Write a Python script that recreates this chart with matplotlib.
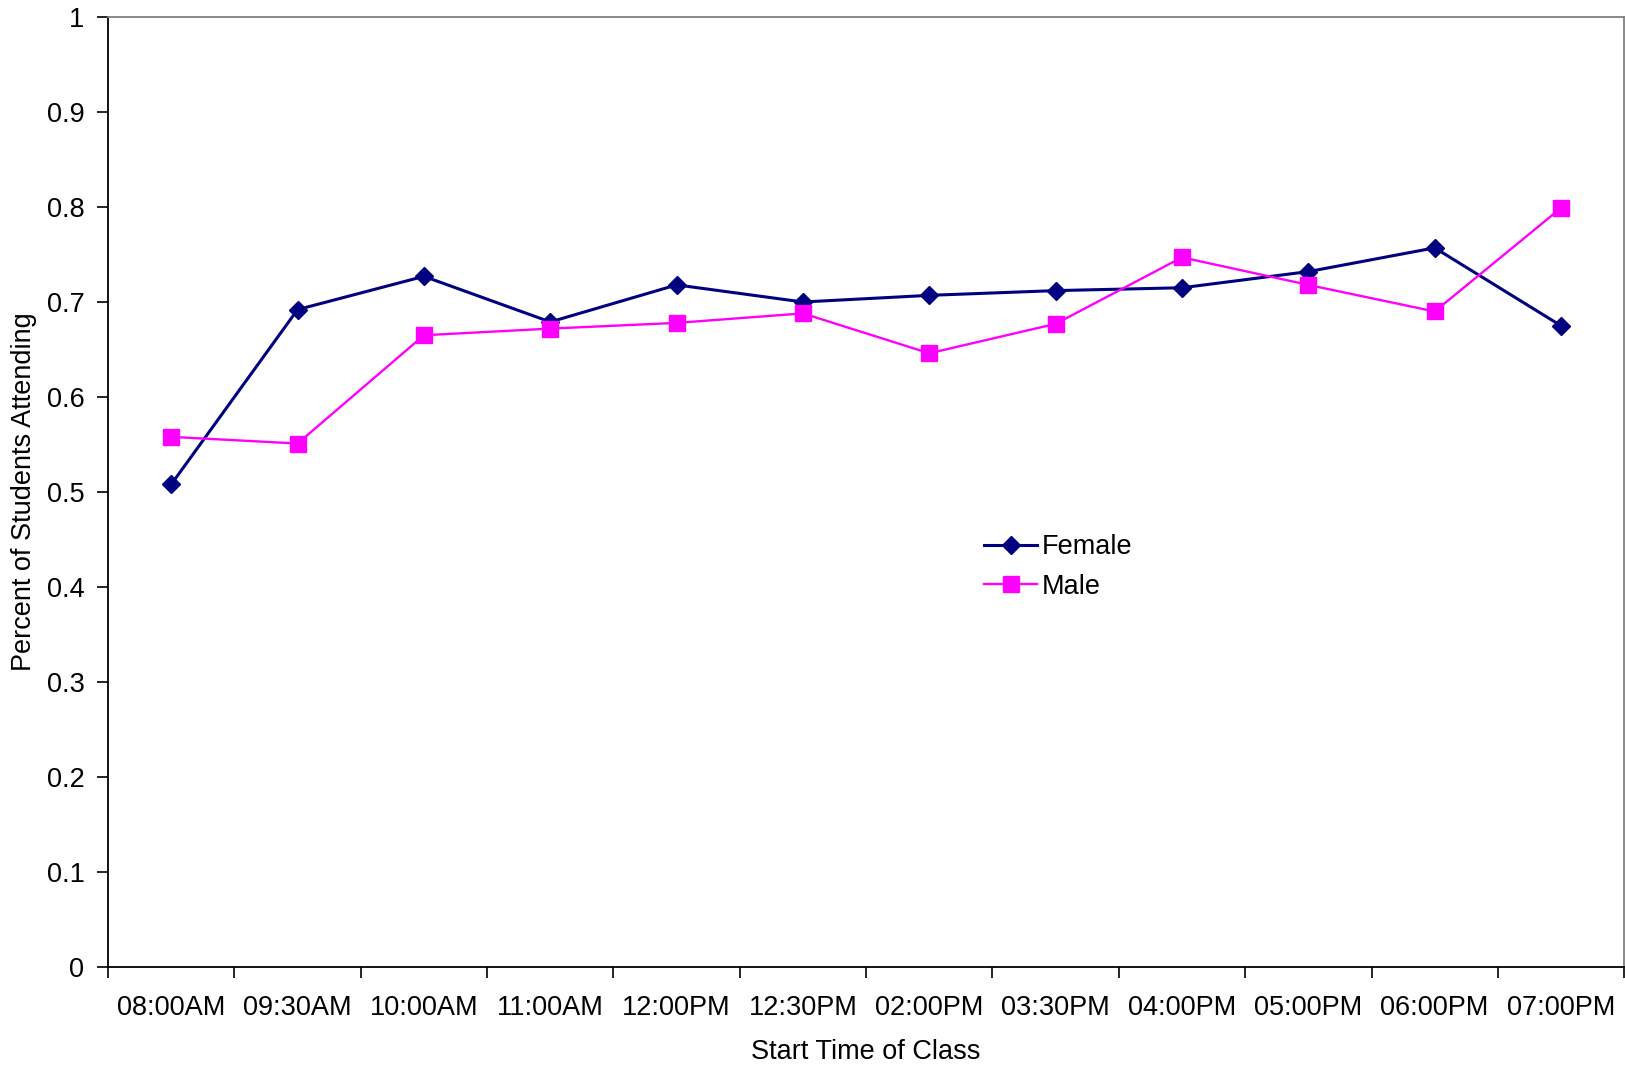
import matplotlib
matplotlib.use("Agg")
import matplotlib.pyplot as plt
from matplotlib.ticker import FixedLocator

plt.rcParams['font.family'] = ['Liberation Sans', 'DejaVu Sans']

categories = ["08:00AM", "09:30AM", "10:00AM", "11:00AM", "12:00PM", "12:30PM",
              "02:00PM", "03:30PM", "04:00PM", "05:00PM", "06:00PM", "07:00PM"]
female = [0.508, 0.692, 0.727, 0.679, 0.718, 0.700, 0.707, 0.712, 0.715, 0.732, 0.757, 0.675]
male = [0.558, 0.551, 0.665, 0.672, 0.678, 0.688, 0.646, 0.677, 0.747, 0.718, 0.690, 0.799]
yticks = [0, 0.1, 0.2, 0.3, 0.4, 0.5, 0.6, 0.7, 0.8, 0.9, 1]
ytick_labels = ["0", "0.1", "0.2", "0.3", "0.4", "0.5", "0.6", "0.7", "0.8", "0.9", "1"]

FS = 19.5

fig = plt.figure(figsize=(16.25, 10.66), dpi=100)
ax = fig.add_axes([0.0665, 0.093, 0.933, 0.891])

x = list(range(len(categories)))
ax.plot(x, female, color='#000080', lw=2.2, marker='D', markersize=9.5, label='Female')
ax.plot(x, male, color='#FF00FF', lw=1.7, marker='s', markersize=11, label='Male')

ax.set_xlim(-0.5, len(categories) - 0.5)
ax.set_ylim(0, 1)
ax.set_yticks(yticks)
ax.set_yticklabels(ytick_labels)
ax.set_xticks(x)
ax.set_xticklabels(categories)
ax.xaxis.set_minor_locator(FixedLocator([i - 0.5 for i in range(len(categories) + 1)]))
ax.tick_params(axis='x', which='major', length=0, labelsize=FS, pad=20)
ax.tick_params(axis='x', which='minor', length=8, width=1.2, direction='out')
ax.tick_params(axis='y', length=8, width=1.2, direction='out', labelsize=FS, pad=9)

for s in ['left', 'bottom']:
    ax.spines[s].set_color('black')
    ax.spines[s].set_linewidth(1.3)
for s in ['top', 'right']:
    ax.spines[s].set_color('#808080')
    ax.spines[s].set_linewidth(1.3)

ax.set_ylabel('Percent of Students Attending', fontsize=FS, labelpad=7)
ax.set_xlabel('Start Time of Class', fontsize=FS, labelpad=13)

ax.legend(loc='upper left', bbox_to_anchor=(0.562, 0.481), frameon=False, fontsize=FS,
          handlelength=1.95, handletextpad=0.15, labelspacing=0.5)

fig.savefig('out.png', dpi=100)
